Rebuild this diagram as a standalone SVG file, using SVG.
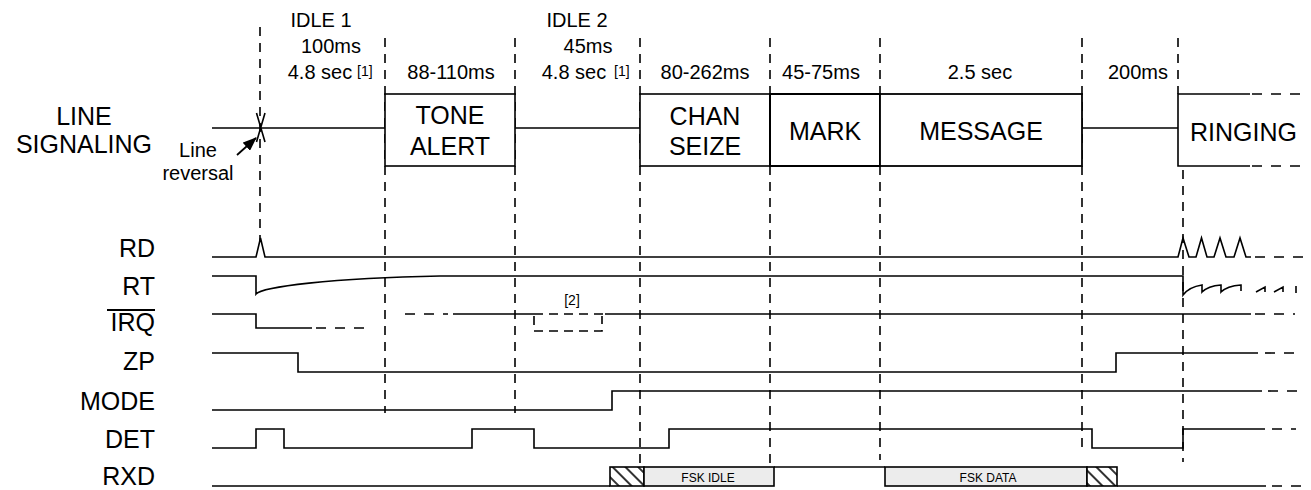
<svg xmlns="http://www.w3.org/2000/svg" width="1311" height="490" viewBox="0 0 1311 490">
<style>
.t{font-family:"Liberation Sans",Arial,Helvetica,sans-serif;fill:#000}
.h{font-size:20px;text-anchor:middle}
.sup{font-size:14px}
.big{font-size:25px}
.mid{text-anchor:middle}
.lbl{font-size:25px;text-anchor:end}
.sig{fill:none;stroke:#000;stroke-width:1.6}
.ext{fill:none;stroke:#000;stroke-width:1.6;stroke-dasharray:10 9}
.vd{fill:none;stroke:#000;stroke-width:1.6;stroke-dasharray:9 7}
.box{fill:#fff;stroke:#000;stroke-width:1.6}
.fsk{fill:#ececec;stroke:#000;stroke-width:1.6}
.hatch{fill:url(#hp);stroke:#000;stroke-width:1.6}
.small{font-size:12px;text-anchor:middle}
</style>
<defs>
<pattern id="hp" patternUnits="userSpaceOnUse" width="9" height="9" patternTransform="rotate(-45)">
<rect width="9" height="9" fill="#fff"/>
<line x1="4" y1="0" x2="4" y2="9" stroke="#000" stroke-width="1.6"/>
</pattern>
<marker id="ah" markerWidth="14" markerHeight="11" refX="13" refY="5.5" orient="auto" markerUnits="userSpaceOnUse">
<path d="M0,0 L14,5.5 L0,11 Z" fill="#000"/>
</marker>
</defs>
<rect width="1311" height="490" fill="#fff"/>

<g id="gridlines">
<path class="vd" d="M260,27 V241"/>
<path class="vd" d="M385,38 V413"/>
<path class="vd" d="M515,38 V413"/>
<path class="vd" d="M640,38 V465"/>
<path class="vd" d="M770,38 V467"/>
<path class="vd" d="M880,38 V460"/>
<path class="vd" d="M1082,38 V453"/>
<path class="vd" d="M1178,38 V94"/>
<path class="vd" d="M1183,170 V462"/>
</g>

<g id="header" class="t">
<text class="h" x="321" y="27">IDLE 1</text>
<text class="h" x="331" y="53">100ms</text>
<text class="h" x="320" y="79">4.8 sec</text>
<text class="sup" x="357" y="76">[1]</text>
<text class="h" x="451" y="79">88-110ms</text>
<text class="h" x="577" y="27">IDLE 2</text>
<text class="h" x="588" y="53">45ms</text>
<text class="h" x="574" y="79">4.8 sec</text>
<text class="sup" x="614" y="76">[1]</text>
<text class="h" x="705" y="79">80-262ms</text>
<text class="h" x="821" y="79">45-75ms</text>
<text class="h" x="980" y="79">2.5 sec</text>
<text class="h" x="1138" y="79">200ms</text>
</g>

<g id="line-signaling">
<text class="t big mid" x="84" y="125">LINE</text>
<text class="t big mid" x="84" y="153">SIGNALING</text>
<path class="sig" d="M212,128 H385 M515,128 H640 M1082,128 H1178"/>
<path class="sig" d="M256.5,113 L265,142 M265,113 L256.5,142"/>
<text class="t mid" style="font-size:20px" x="198" y="157">Line</text>
<text class="t mid" style="font-size:20px" x="198" y="180">reversal</text>
<line x1="237" y1="155" x2="256" y2="138" stroke="#000" stroke-width="1.8" marker-end="url(#ah)"/>
</g>

<g id="tone-alert">
<rect class="box" x="385" y="94" width="130" height="72"/>
<text class="t big mid" x="450" y="124">TONE</text>
<text class="t big mid" x="450" y="155">ALERT</text>
</g>
<g id="chan-seize">
<rect class="box" x="640" y="94" width="130" height="72"/>
<text class="t big mid" x="705" y="125">CHAN</text>
<text class="t big mid" x="705" y="155">SEIZE</text>
</g>
<g id="mark">
<rect class="box" x="770" y="94" width="110" height="72" style="stroke-width:2"/>
<text class="t big mid" x="825" y="140">MARK</text>
</g>
<g id="message">
<rect class="box" x="880" y="94" width="202" height="72" style="stroke-width:1.8"/>
<text class="t big mid" x="981" y="140">MESSAGE</text>
</g>
<g id="ringing">
<path class="sig" d="M1250,94 H1178 V166 H1250"/>
<path class="ext" d="M1252,94 H1300 M1252,166 H1300"/>
<text class="t big" x="1190" y="141">RINGING</text>
</g>

<g id="labels" class="t">
<text class="lbl" x="155" y="257">RD</text>
<text class="lbl" x="155" y="295">RT</text>
<text class="lbl" x="155" y="331">IRQ</text>
<line x1="107" y1="310" x2="155" y2="310" stroke="#000" stroke-width="2"/>
<text class="lbl" x="155" y="370">ZP</text>
<text class="lbl" x="155" y="410">MODE</text>
<text class="lbl" x="155" y="448">DET</text>
<text class="lbl" x="155" y="485">RXD</text>
</g>

<g id="signals">
<path id="rd" class="sig" d="M212,257 H256 L260.5,238 L265,257 H1178 L1183,238 L1189,257 H1196 L1201.5,238 L1207,257 H1214 L1220,238 L1226,257 H1234 L1240,238 L1246,257 H1251"/>
<path class="ext" d="M1255,257 H1303"/>
<path id="rt" class="sig" d="M212,276 H256 V294 C262,287 330,278 440,276 H1183 V295 Q1189,287 1202,285 V292 Q1208,286 1221,285 V292 Q1227,286 1241,285 V291"/>
<path class="sig" d="M1256,292 L1265,287 V292 M1274,292 L1283,287 V292 M1296,286 V293"/>
<path id="irq" class="sig" d="M212,314 H256 V328 H312 M453,314 H534 M605,314 H1251"/>
<path class="ext" d="M316,328 H373 M405,314 H448 M1255,314 H1295"/>
<path class="sig" style="stroke-dasharray:9 6" d="M534,314 H605 M534,316 V331 H602 V316"/>
<text class="t" style="font-size:14px;text-anchor:middle" x="572" y="305">[2]</text>
<path id="zp" class="sig" d="M212,353 H298 V372 H1116 V353 H1258"/>
<path class="ext" d="M1265,353 H1303"/>
<path id="mode" class="sig" d="M212,410 H612 V391 H1262"/>
<path class="ext" d="M1268,391 H1303"/>
<path id="det" class="sig" d="M212,448 H256 V429 H284 V448 H472 V429 H534 V448 H669 V429 H1092 V448 H1183 V429 H1265"/>
<path class="ext" d="M1272,429 H1296"/>
<g id="rxd">
<path class="sig" d="M212,486 H610 M774,467 H885 M1117,486 H1266"/>
<path class="ext" d="M1272,486 H1303"/>
<rect class="hatch" x="610" y="467" width="34" height="19"/>
<rect class="fsk" x="644" y="467" width="130" height="19"/>
<text class="t small" x="708" y="482">FSK IDLE</text>
<rect class="fsk" x="885" y="467" width="202" height="19"/>
<text class="t small" x="988" y="482">FSK DATA</text>
<rect class="hatch" x="1087" y="467" width="30" height="19"/>
</g>
</g>
</svg>
